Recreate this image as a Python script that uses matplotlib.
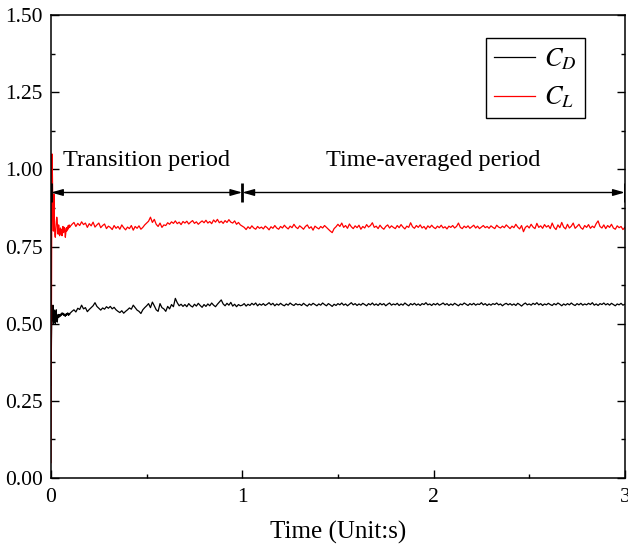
import numpy as np
import matplotlib
matplotlib.use("Agg")
import matplotlib.pyplot as plt
from matplotlib.ticker import MultipleLocator, FormatStrFormatter

plt.rcParams['font.family'] = ['Liberation Serif', 'DejaVu Serif']
plt.rcParams['mathtext.fontset'] = 'stix'

# start-up phase, sampled finer (t = 0 .. 0.0975 s)
t_start = np.linspace(0.0, 0.0975, 40)
cl_start = [0.05, 0.60, 1.05, 0.98, 0.86, 0.80, 0.92, 0.83, 0.79, 0.78,
            0.80, 0.83, 0.845, 0.835, 0.80, 0.79, 0.82, 0.805, 0.785, 0.80,
            0.81, 0.79, 0.805, 0.785, 0.80, 0.815, 0.795, 0.80, 0.812, 0.80,
            0.78, 0.795, 0.81, 0.80, 0.812, 0.805, 0.818, 0.81, 0.82, 0.812]
cd_start = [0.30, 0.45, 0.555, 0.51, 0.56, 0.50, 0.545, 0.505, 0.54, 0.50,
            0.53, 0.545, 0.51, 0.505, 0.52, 0.53, 0.52, 0.528, 0.523, 0.53,
            0.525, 0.532, 0.528, 0.535, 0.53, 0.534, 0.528, 0.532, 0.526, 0.530,
            0.524, 0.531, 0.527, 0.533, 0.529, 0.535, 0.530, 0.527, 0.533, 0.530]

# rest of the run (t = 0.10 .. 3.00 s, every 0.01 s)
t_main = np.linspace(0.1, 3.0, 291)
cl_main = [
    0.815, 0.822, 0.828, 0.815, 0.825, 0.818, 0.830, 0.821, 0.826, 0.812,
    0.824, 0.817, 0.829, 0.813, 0.820, 0.826, 0.811, 0.818, 0.823, 0.808,
    0.816, 0.812, 0.805, 0.818, 0.809, 0.815, 0.806, 0.820, 0.811, 0.804,
    0.813, 0.808, 0.818, 0.803, 0.815, 0.809, 0.817, 0.806, 0.812, 0.820,
    0.826, 0.832, 0.845, 0.828, 0.838, 0.822, 0.815, 0.826, 0.812, 0.820,
    0.818, 0.827, 0.822, 0.830, 0.825, 0.833, 0.824, 0.829, 0.821, 0.831,
    0.826, 0.832, 0.823, 0.829, 0.834, 0.825, 0.830, 0.822, 0.828, 0.833,
    0.827, 0.835, 0.826, 0.831, 0.824, 0.836, 0.829, 0.838, 0.827, 0.832,
    0.825, 0.834, 0.828, 0.837, 0.829, 0.826, 0.833, 0.822, 0.828, 0.820,
    0.816, 0.812, 0.805, 0.814, 0.808, 0.817, 0.810, 0.806, 0.815, 0.809,
    0.813, 0.807, 0.816, 0.811, 0.804, 0.814, 0.809, 0.818, 0.810, 0.806,
    0.815, 0.810, 0.819, 0.812, 0.807, 0.816, 0.811, 0.822, 0.813, 0.808,
    0.817, 0.812, 0.806, 0.815, 0.820, 0.809, 0.814, 0.803, 0.816, 0.811,
    0.807, 0.815, 0.810, 0.818, 0.812, 0.806, 0.800, 0.795, 0.808, 0.814,
    0.822, 0.815, 0.826, 0.812, 0.818, 0.809, 0.823, 0.814, 0.808, 0.817,
    0.811, 0.819, 0.806, 0.815, 0.810, 0.821, 0.813, 0.818, 0.827, 0.812,
    0.816, 0.808, 0.819, 0.811, 0.806, 0.815, 0.820, 0.810, 0.817, 0.812,
    0.808, 0.818, 0.811, 0.821, 0.813, 0.807, 0.816, 0.812, 0.827, 0.814,
    0.809, 0.818, 0.812, 0.820, 0.810, 0.815, 0.806, 0.817, 0.811, 0.819,
    0.812, 0.808, 0.816, 0.811, 0.819, 0.810, 0.814, 0.807, 0.816, 0.812,
    0.818, 0.810, 0.815, 0.826, 0.812, 0.808, 0.816, 0.811, 0.817, 0.809,
    0.814, 0.819, 0.810, 0.816, 0.808, 0.813, 0.818, 0.811, 0.815, 0.809,
    0.817, 0.812, 0.808, 0.819, 0.813, 0.810, 0.816, 0.811, 0.820, 0.814,
    0.808, 0.816, 0.811, 0.822, 0.813, 0.807, 0.818, 0.798, 0.812, 0.817,
    0.810, 0.822, 0.813, 0.808, 0.825, 0.812, 0.817, 0.809, 0.821, 0.813,
    0.818, 0.808, 0.826, 0.812, 0.805, 0.820, 0.811, 0.828, 0.813, 0.807,
    0.822, 0.810, 0.816, 0.826, 0.809, 0.815, 0.822, 0.811, 0.806, 0.818,
    0.812, 0.821, 0.809, 0.816, 0.811, 0.824, 0.833, 0.815, 0.810, 0.820,
    0.808, 0.818, 0.812, 0.822, 0.810, 0.806, 0.817, 0.811, 0.815, 0.805,
    0.812]
cd_main = [
    0.534, 0.540, 0.545, 0.538, 0.550, 0.546, 0.560, 0.548, 0.552, 0.539,
    0.546, 0.552, 0.558, 0.568, 0.556, 0.550, 0.544, 0.551, 0.547, 0.555,
    0.550, 0.556, 0.548, 0.553, 0.545, 0.540, 0.536, 0.542, 0.534, 0.540,
    0.545, 0.551, 0.547, 0.560, 0.552, 0.544, 0.540, 0.533, 0.545, 0.552,
    0.558, 0.565, 0.552, 0.570, 0.558, 0.545, 0.540, 0.565, 0.552, 0.548,
    0.540, 0.556, 0.548, 0.562, 0.555, 0.582, 0.568, 0.558, 0.563, 0.556,
    0.562, 0.555, 0.565, 0.558, 0.554, 0.563, 0.557, 0.566, 0.559, 0.553,
    0.562, 0.556, 0.564, 0.558, 0.567, 0.560, 0.555, 0.563, 0.570, 0.577,
    0.564, 0.558, 0.566, 0.560, 0.569, 0.557, 0.563, 0.555, 0.562, 0.558,
    0.560, 0.565, 0.557, 0.563, 0.559, 0.566, 0.561, 0.567, 0.558, 0.564,
    0.560, 0.565, 0.559, 0.563, 0.568, 0.561, 0.566, 0.558, 0.564, 0.560,
    0.566, 0.561, 0.558, 0.564, 0.560, 0.567, 0.562, 0.559, 0.565, 0.561,
    0.563, 0.559, 0.566, 0.561, 0.557, 0.564, 0.560, 0.566, 0.562, 0.558,
    0.564, 0.560, 0.567, 0.562, 0.558, 0.565, 0.561, 0.556, 0.563, 0.559,
    0.565, 0.561, 0.567, 0.560, 0.564, 0.558, 0.563, 0.568, 0.561, 0.565,
    0.559, 0.564, 0.560, 0.566, 0.562, 0.558, 0.565, 0.561, 0.567, 0.560,
    0.564, 0.559, 0.566, 0.561, 0.565, 0.558, 0.563, 0.567, 0.560, 0.564,
    0.561, 0.566, 0.559, 0.564, 0.560, 0.567, 0.562, 0.558, 0.565, 0.561,
    0.566, 0.560, 0.564, 0.559, 0.565, 0.562, 0.568, 0.561, 0.564, 0.559,
    0.565, 0.561, 0.566, 0.560, 0.563, 0.567, 0.561, 0.565, 0.559, 0.564,
    0.560, 0.566, 0.562, 0.558, 0.564, 0.561, 0.567, 0.563, 0.559, 0.565,
    0.561, 0.566, 0.560, 0.564, 0.562, 0.568, 0.561, 0.565, 0.559, 0.564,
    0.560, 0.565, 0.562, 0.567, 0.561, 0.564, 0.558, 0.563, 0.566, 0.561,
    0.565, 0.560, 0.564, 0.559, 0.566, 0.562, 0.557, 0.563, 0.567, 0.561,
    0.564, 0.560, 0.566, 0.562, 0.568, 0.561, 0.565, 0.559, 0.564, 0.561,
    0.566, 0.562, 0.559, 0.565, 0.561, 0.567, 0.563, 0.558, 0.564, 0.560,
    0.565, 0.561, 0.567, 0.562, 0.559, 0.565, 0.561, 0.566, 0.560, 0.564,
    0.561, 0.566, 0.562, 0.568, 0.560, 0.564, 0.559, 0.565, 0.562, 0.567,
    0.561, 0.565, 0.560, 0.566, 0.562, 0.558, 0.564, 0.561, 0.566, 0.560,
    0.563]

period_edges = [0, 1, 3]
period_names = ["Transition period", "Time-averaged period"]

t = np.concatenate([t_start, t_main])
cd = np.concatenate([cd_start, cd_main])
cl = np.concatenate([cl_start, cl_main])

fig = plt.figure(figsize=(6.28, 5.46), dpi=100)
ax = fig.add_axes([0.0812, 0.1245, 0.9138, 0.848])

ax.plot(t, cd, color="black", lw=0.9, label="$C_D$")
ax.plot(t, cl, color="#ff0000", lw=0.9, label="$C_L$")

ax.set_xlim(0, 3)
ax.set_ylim(0, 1.5)
ax.xaxis.set_major_locator(MultipleLocator(1))
ax.xaxis.set_minor_locator(MultipleLocator(0.5))
ax.yaxis.set_major_locator(MultipleLocator(0.25))
ax.yaxis.set_minor_locator(MultipleLocator(0.125))
ax.yaxis.set_major_formatter(FormatStrFormatter("%.2f"))
ax.tick_params(which="both", direction="in", right=True, labelsize=15.5)
ax.tick_params(which="major", length=6, width=1)
ax.tick_params(which="minor", length=3, width=1)
ax.tick_params(axis="x", pad=7)
ax.tick_params(axis="y", pad=6)
for s in ax.spines.values():
    s.set_linewidth(1.1)

ax.set_xlabel("Time (Unit:s)", fontsize=18, labelpad=10)

# period markers
y_arrow = 0.925
ax.vlines(period_edges, y_arrow - 0.032, y_arrow + 0.032, color="black", lw=2)
for i in range(len(period_names)):
    a, b = period_edges[i], period_edges[i + 1]
    ax.annotate("", xy=(a, y_arrow), xytext=(b, y_arrow),
                arrowprops=dict(arrowstyle="<|-|>,head_length=0.7,head_width=0.2",
                                color="black", lw=1, shrinkA=0, shrinkB=0))
    ax.text((a + b) / 2, 1.03, period_names[i], fontsize=17.5,
            ha="center", va="center")

leg = ax.legend(loc="upper right", bbox_to_anchor=(0.93, 0.95), fontsize=19,
                handlelength=1.55, handletextpad=0.35, fancybox=False,
                framealpha=1, edgecolor="black", borderpad=0.3,
                labelspacing=0.5, borderaxespad=0)
leg.get_frame().set_linewidth(1)

fig.savefig("out.png", dpi=100)
